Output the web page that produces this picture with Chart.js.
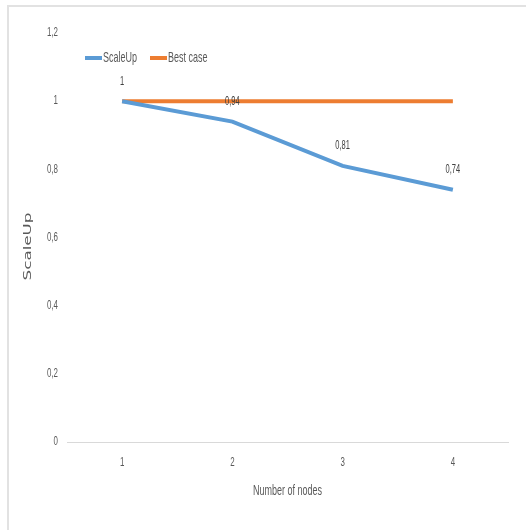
<!DOCTYPE html>
<html>
<head>
<meta charset="utf-8">
<script src="https://cdn.jsdelivr.net/npm/chart.js@4.4.1/dist/chart.umd.min.js"></script>
<style>
  html, body { margin: 0; padding: 0; background: #fff; }
  #wrap { position: relative; width: 526px; height: 530px; }
  #frame { position: absolute; left: 7px; top: 5px; right: 0; bottom: 0;
           border-top: 2px solid #e2e2e2; border-left: 2px solid #e2e2e2; }
  #myChart { position: absolute; left: 0; top: 0; }
</style>
</head>
<body>
<div id="wrap">
  <div id="frame"></div>
  <canvas id="myChart" width="526" height="530"></canvas>
</div>
<script>
// scale-up test results
const nodes = ['1', '2', '3', '4'];
const scaleUp = [1, 0.94, 0.81, 0.74];
const bestCase = [1, 1, 1, 1];
const yTicks = [0, 0.2, 0.4, 0.6, 0.8, 1, 1.2];

const face = "'Liberation Sans', Arial, sans-serif";
const grey = '#595959';

function comma(v) {
  return String(Math.round(v * 100) / 100).replace('.', ',');
}

// condensed text: draw with a horizontal squeeze
function narrowText(ctx, text, x, y, align, size, color, k) {
  ctx.save();
  ctx.translate(x, y);
  ctx.scale(k, 1);
  ctx.font = size + 'px ' + face;
  ctx.fillStyle = color;
  ctx.textAlign = align;
  ctx.textBaseline = 'middle';
  ctx.fillText(text, 0, 0);
  ctx.restore();
}

// tick labels, axis titles, legend and value labels
const extras = {
  id: 'extras',
  afterDatasetsDraw(chart) {
    const ctx = chart.ctx;
    const area = chart.chartArea;
    const xs = chart.scales.x;
    const ys = chart.scales.y;

    yTicks.forEach(v => {
      narrowText(ctx, comma(v), 58, ys.getPixelForValue(v), 'right', 12, grey, 0.66);
    });
    nodes.forEach((n, i) => {
      narrowText(ctx, n, xs.getPixelForValue(i), area.bottom + 21, 'center', 12, grey, 0.66);
    });
    narrowText(ctx, 'Number of nodes', (area.left + area.right) / 2, area.bottom + 49, 'center', 15.5, grey, 0.58);

    // value labels above the ScaleUp line
    const meta = chart.getDatasetMeta(0);
    meta.data.forEach((pt, i) => {
      narrowText(ctx, comma(chart.data.datasets[0].data[i]), pt.x, pt.y - 20, 'center', 12.5, '#404040', 0.6);
    });

    // legend
    let x = 85;
    const ly = 58;
    const k = 0.62;
    chart.data.datasets.forEach(ds => {
      ctx.save();
      ctx.strokeStyle = ds.borderColor;
      ctx.lineWidth = 4;
      ctx.beginPath();
      ctx.moveTo(x, ly);
      ctx.lineTo(x + 17, ly);
      ctx.stroke();
      ctx.font = '14.5px ' + face;
      const w = ctx.measureText(ds.label).width * k;
      ctx.restore();
      narrowText(ctx, ds.label, x + 18, ly, 'left', 14.5, grey, k);
      x += 18 + w + 13;
    });

    // y axis title
    ctx.save();
    ctx.translate(28, (area.top + area.bottom) / 2 + 9);
    ctx.rotate(-Math.PI / 2);
    ctx.scale(1.52, 1);
    ctx.textAlign = 'center';
    ctx.textBaseline = 'middle';
    ctx.font = '11px "DejaVu Sans", sans-serif';
    ctx.fillStyle = grey;
    ctx.fillText('ScaleUp', 0, 0);
    ctx.restore();
  }
};

const data = {
  labels: nodes,
  datasets: [{
    label: 'ScaleUp',
    data: scaleUp,
    borderColor: 'rgb(91, 155, 213)',
    backgroundColor: 'rgb(91, 155, 213)',
    borderWidth: 4,
    pointRadius: 0,
    tension: 0
  },
  {
    label: 'Best case',
    data: bestCase,
    borderColor: 'rgb(237, 125, 49)',
    backgroundColor: 'rgb(237, 125, 49)',
    borderWidth: 4,
    pointRadius: 0,
    tension: 0
  }]
};

const config = {
  type: 'line',
  data,
  options: {
    responsive: false,
    animation: false,
    layout: { padding: { top: 33, right: 18, left: 0, bottom: 0 } },
    scales: {
      x: {
        offset: true,
        grid: { display: false },
        border: { display: true, color: '#d9d9d9', width: 1 },
        ticks: { display: false },
        afterFit: s => { s.height = 88; }
      },
      y: {
        min: 0,
        max: 1.2,
        grid: { display: false },
        border: { display: false },
        ticks: { display: false },
        afterFit: s => { s.width = 67; }
      }
    },
    plugins: {
      legend: { display: false },
      tooltip: { enabled: false }
    }
  },
  plugins: [extras]
};

const myChart = new Chart(document.getElementById('myChart'), config);
</script>
</body>
</html>
